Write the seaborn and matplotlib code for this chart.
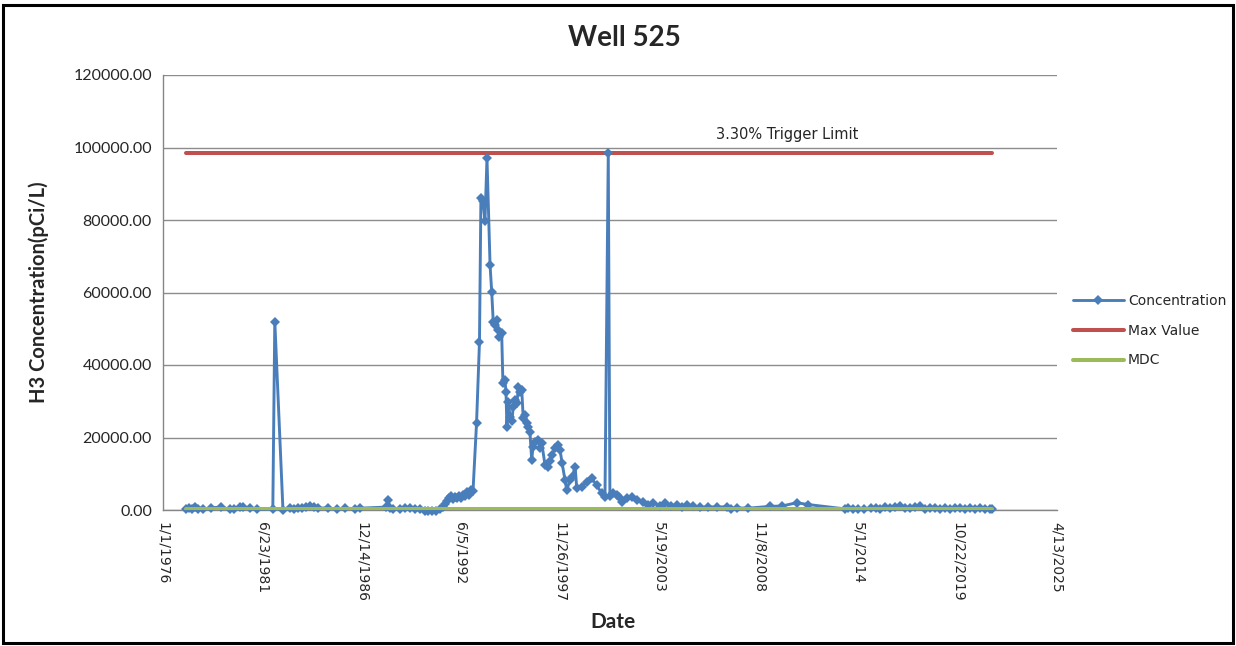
import pandas as pd
import seaborn as sns
import matplotlib.pyplot as plt
from matplotlib.patches import Rectangle
from matplotlib.ticker import FuncFormatter

# sample dates and H3 concentration (pCi/L)
sample_dates = [
    '1977-04-10', '1977-06-05', '1977-08-08', '1977-10-05', '1977-12-06', '1978-03-15',
    '1978-08-20', '1979-03-12', '1979-09-08', '1979-12-10', '1980-04-02', '1980-05-28',
    '1980-10-18', '1981-03-06', '1982-01-20', '1982-03-01', '1982-08-12', '1983-01-05',
    '1983-03-20', '1983-06-10', '1983-08-28', '1983-11-15', '1984-02-06', '1984-04-25',
    '1984-07-15', '1985-02-05', '1985-08-02', '1986-01-10', '1986-07-28', '1986-11-10',
    '1988-04-15', '1988-05-28', '1988-07-05', '1988-09-06', '1989-01-25', '1989-05-05',
    '1989-08-15', '1989-11-20', '1990-03-01', '1990-06-10', '1990-08-10', '1990-11-01',
    '1991-01-20', '1991-04-08', '1991-06-10', '1991-07-20', '1991-08-28', '1991-10-07',
    '1991-11-17', '1991-12-26', '1992-02-06', '1992-03-16', '1992-04-25', '1992-06-05',
    '1992-07-14', '1992-08-24', '1992-10-04', '1992-11-13', '1992-12-23', '1993-02-02',
    '1993-04-14', '1993-06-12', '1993-07-11', '1993-08-20', '1993-10-01', '1993-11-10',
    '1994-01-11', '1994-02-13', '1994-03-16', '1994-04-18', '1994-05-24', '1994-06-26',
    '1994-07-18', '1994-09-02', '1994-09-27', '1994-11-06', '1994-11-28', '1994-12-16',
    '1995-01-15', '1995-02-17', '1995-03-27', '1995-04-22', '1995-05-28', '1995-07-08',
    '1995-08-03', '1995-09-05', '1995-10-11', '1995-11-10', '1995-12-16', '1996-01-19',
    '1996-02-21', '1996-03-23', '1996-04-29', '1996-05-25', '1996-07-04', '1996-09-09',
    '1996-10-11', '1996-11-17', '1997-01-22', '1997-03-27', '1997-05-03', '1997-06-05',
    '1997-08-10', '1997-10-15', '1997-11-21', '1998-01-01', '1998-02-28', '1998-04-04',
    '1998-06-09', '1998-07-18', '1998-09-20', '1998-10-22', '1999-01-29', '1999-05-10',
    '1999-08-17', '1999-11-28', '2000-03-05', '2000-05-13', '2000-07-18', '2000-08-20',
    '2000-10-29', '2001-01-04', '2001-02-21', '2001-04-14', '2001-07-22', '2001-11-03',
    '2002-02-13', '2002-06-23', '2002-09-27', '2003-01-11', '2003-05-25', '2003-09-05',
    '2004-01-04', '2004-04-25', '2004-08-10', '2004-11-13', '2005-03-20', '2005-08-07',
    '2006-01-19', '2006-07-11', '2007-01-30', '2007-04-22', '2007-08-17', '2008-04-01',
    '2009-06-16', '2010-02-10', '2010-12-09', '2011-07-30', '2013-08-07', '2013-10-08',
    '2014-01-15', '2014-04-25', '2014-08-24', '2015-01-11', '2015-04-22', '2015-07-11',
    '2015-10-19', '2016-01-30', '2016-05-10', '2016-08-17', '2016-11-28', '2017-03-08',
    '2017-06-17', '2017-09-24', '2018-01-04', '2018-04-15', '2018-07-24', '2018-11-02',
    '2019-02-10', '2019-05-22', '2019-08-29', '2019-12-09', '2020-03-17', '2020-06-28',
    '2020-10-08', '2021-01-15', '2021-04-27', '2021-08-04', '2021-09-13',
]
concentration = [
    200, 600, 300, 900, 400, 200,
    600, 800, 200, 300, 700, 900,
    500, 200, 300, 52000, 100, 500,
    400, 600, 500, 700, 1200, 800,
    500, 600, 200, 500, 400, 500,
    800, 2700, 600, 200, 400, 600,
    500, 300, 200, -200, -400, -300,
    -200, 200, 800, 1600, 2600, 3400,
    3800, 3100, 3600, 3200, 3800, 3400,
    4200, 3800, 5000, 4200, 5500, 5300,
    24000, 46400, 86000, 85300, 79800, 97000,
    67600, 60200, 52000, 51000, 52400, 49600,
    47800, 48700, 35000, 35900, 32600, 23000,
    29900, 25700, 24500, 28500, 30300, 29500,
    34000, 32600, 33100, 25300, 26200, 23900,
    23000, 21600, 13800, 17500, 18800, 19300,
    17000, 18400, 12400, 12000, 13500, 15200,
    17000, 17900, 16500, 12900, 8300, 5500,
    8300, 9000, 12000, 6000, 6400, 7800,
    8700, 6900, 4600, 3700, 98400, 4000,
    4600, 4100, 3500, 2300, 3200, 3700,
    2800, 2300, 1500, 1900, 1200, 1900,
    1200, 1400, 700, 1400, 1000, 700,
    900, 800, 900, 400, 600, 500,
    1000, 1100, 2000, 1500, 300, 500,
    300, 400, 300, 500, 600, 400,
    900, 500, 700, 1000, 600, 500,
    800, 1000, 400, 500, 600, 400,
    500, 400, 600, 500, 400, 500,
    400, 500, 400, 300, 300,
]
max_value = 98400
mdc_value = 300
tick_labels = ['1/1/1976', '6/23/1981', '12/14/1986', '6/5/1992', '11/26/1997',
               '5/19/2003', '11/8/2008', '5/1/2014', '10/22/2019', '4/13/2025']
y_ticks = [0, 20000, 40000, 60000, 80000, 100000, 120000]

df = pd.DataFrame({'Date': pd.to_datetime(sample_dates), 'Concentration': concentration})
ends = df['Date'].iloc[[0, -1]]
limits = pd.DataFrame({'Date': ends, 'Max Value': [max_value] * 2, 'MDC': [mdc_value] * 2})
ticks = pd.to_datetime(tick_labels, format='%m/%d/%Y')

sns.set_style('white')
plt.rcParams['font.family'] = ['DejaVu Sans']

W, H = 1236, 646
fig = plt.figure(figsize=(W / 100, H / 100), dpi=100)
ax = fig.add_axes([163 / W, 1 - 510 / H, (1057 - 163) / W, (510 - 75) / H])

sns.lineplot(data=df, x='Date', y='Concentration', ax=ax, color='#4A7EBB', lw=2.1,
             marker='D', markersize=5, markeredgewidth=0, label='Concentration',
             clip_on=False, zorder=4)
sns.lineplot(data=limits, x='Date', y='Max Value', ax=ax, color='#C0504D', lw=2.9,
             label='Max Value', zorder=3)
sns.lineplot(data=limits, x='Date', y='MDC', ax=ax, color='#9BBB59', lw=2.9,
             label='MDC', zorder=5)

ax.set_xlim(ticks[0], ticks[-1])
ax.set_ylim(0, 120000)
ax.set_xticks(ticks)
ax.set_xticklabels(tick_labels, rotation=270, fontsize=10, va='top', ha='center')
ax.set_yticks(y_ticks)
ax.yaxis.set_major_formatter(FuncFormatter(lambda v, p: '{:.2f}'.format(v)))
for t in ax.get_yticklabels():
    t.set_family('Lato')
    t.set_fontsize(11.5)
ax.tick_params(axis='both', direction='out', length=5, width=1, color='#868686', pad=3)
ax.tick_params(axis='x', pad=4)

ax.yaxis.grid(True, color='#8C8C8C', lw=1)
ax.xaxis.grid(False)
for side in ['top', 'right']:
    ax.spines[side].set_visible(False)
for side in ['left', 'bottom']:
    ax.spines[side].set_color('#868686')
    ax.spines[side].set_linewidth(1)

ax.set_xlabel('Date', fontsize=15, fontweight='bold', family='Lato')
ax.set_ylabel('H3 Concentration(pCi/L)', fontsize=14.5, fontweight='bold', family='Lato')
ax.xaxis.set_label_coords(0.503, -0.235)
ax.yaxis.set_label_coords(-0.128, 0.5)

fig.text(624 / W, 1 - 38 / H, 'Well 525', ha='center', va='center', fontsize=20,
         fontweight='bold', family='Lato')
ax.text(pd.Timestamp('2010-06-01'), 103500, '3.30% Trigger Limit', ha='center',
        va='center', fontsize=10.5)

ax.legend(loc='upper left', bbox_to_anchor=(1067 / W, 1 - 288 / H), bbox_transform=fig.transFigure,
          frameon=False, fontsize=10, handlelength=3.7, handletextpad=0.3, labelspacing=1.15,
          borderaxespad=0)

fig.patches.append(Rectangle((3 / W, 3 / H), 1 - 6 / W, 1 - 8 / H, transform=fig.transFigure,
                             fill=False, edgecolor='black', lw=2.2))

fig.savefig('out.png', dpi=100)
